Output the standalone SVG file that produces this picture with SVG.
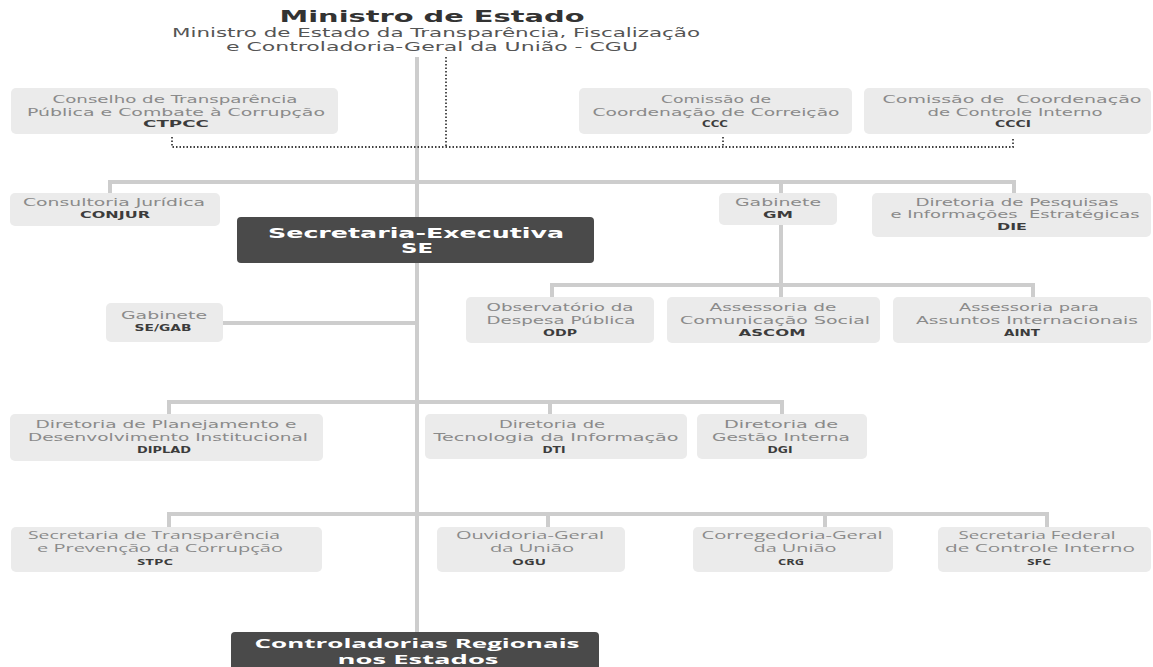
<svg xmlns="http://www.w3.org/2000/svg" width="1153" height="667" viewBox="0 0 1153 667">
<style>
.bx{fill:#ebebeb}
.dk{fill:#4a4a4a}
.t{font-family:"DejaVu Sans",Verdana,sans-serif;font-size:11px;fill:#8a8a8a;text-anchor:middle}
.b{font-family:"DejaVu Sans",Verdana,sans-serif;font-size:8.5px;font-weight:bold;fill:#3c3c3c;text-anchor:middle}
.o{font-family:"Open Sans","Liberation Sans",sans-serif;font-size:11px;fill:#8a8a8a;text-anchor:middle}
.ob{font-family:"Open Sans","Liberation Sans",sans-serif;font-size:8.5px;font-weight:bold;fill:#3c3c3c;text-anchor:middle}
.w{font-family:"DejaVu Sans",Verdana,sans-serif;font-size:13.5px;font-weight:bold;fill:#ffffff;text-anchor:middle}
.wo{font-family:"Open Sans","Liberation Sans",sans-serif;font-size:13px;font-weight:bold;fill:#ffffff;text-anchor:middle}
.ln{stroke:#cdcdcd;stroke-width:4;fill:none}
.dt{stroke:#3f3f3f;stroke-width:1.8;stroke-dasharray:1.5 2;fill:none}
.pre{white-space:pre}
</style>
<rect width="1153" height="667" fill="#ffffff"/>
<g id="connectors">
<path class="ln" d="M417 57V640"/>
<path class="ln" d="M110 193V182H1014V193M781 182V193"/>
<path class="ln" d="M781 225V297M552 297V285H1033V297"/>
<path class="ln" d="M223 323H417"/>
<path class="ln" d="M169 414V402H782V414M550 402V414"/>
<path class="ln" d="M169 527V514H1047V527M548 514V527M825 514V527"/>
<path class="dt" d="M446 57V147M172 137V147H1013V137M723 137V147"/>
</g>
<g id="ministro">
<text x="432" y="22" textLength="305" lengthAdjust="spacingAndGlyphs" style="font-family:'DejaVu Sans',Verdana,sans-serif;font-size:16px;font-weight:bold;fill:#333;text-anchor:middle">Ministro de Estado</text>
<text x="436" y="37" textLength="528" lengthAdjust="spacingAndGlyphs" style="font-family:'DejaVu Sans',Verdana,sans-serif;font-size:12.5px;fill:#555;text-anchor:middle">Ministro de Estado da Transparência, Fiscalização</text>
<text x="432" y="51" textLength="412" lengthAdjust="spacingAndGlyphs" style="font-family:'DejaVu Sans',Verdana,sans-serif;font-size:12.5px;fill:#555;text-anchor:middle">e Controladoria-Geral da União - CGU</text>
</g>
<g id="ctpcc">
<rect class="bx" x="11" y="88" width="327" height="46" rx="5"/>
<text class="t" x="175" y="103" textLength="245" lengthAdjust="spacingAndGlyphs">Conselho de Transparência</text>
<text class="t" x="176" y="116" textLength="298" lengthAdjust="spacingAndGlyphs">Pública e Combate à Corrupção</text>
<text class="b" x="176" y="127" textLength="66" lengthAdjust="spacingAndGlyphs">CTPCC</text>
</g>
<g id="ccc">
<rect class="bx" x="579" y="88" width="273" height="46" rx="5"/>
<text class="t" x="716" y="103" textLength="110" lengthAdjust="spacingAndGlyphs">Comissão de</text>
<text class="t" x="716" y="116" textLength="247" lengthAdjust="spacingAndGlyphs">Coordenação de Correição</text>
<text class="b" x="715" y="127" textLength="26" lengthAdjust="spacingAndGlyphs">CCC</text>
</g>
<g id="ccci">
<rect class="bx" x="864" y="88" width="287" height="46" rx="5"/>
<text class="t pre" x="1012" y="103" textLength="259" lengthAdjust="spacingAndGlyphs">Comissão de  Coordenação</text>
<text class="t" x="1015" y="116" textLength="175" lengthAdjust="spacingAndGlyphs">de Controle Interno</text>
<text class="b" x="1013" y="127" textLength="36" lengthAdjust="spacingAndGlyphs">CCCI</text>
</g>
<g id="conjur">
<rect class="bx" x="10" y="193" width="210" height="33" rx="5"/>
<text class="t" x="114" y="206" textLength="182" lengthAdjust="spacingAndGlyphs">Consultoria Jurídica</text>
<text class="b" x="115" y="218" textLength="70" lengthAdjust="spacingAndGlyphs">CONJUR</text>
</g>
<g id="se">
<rect class="dk" x="237" y="217" width="357" height="46" rx="4"/>
<text class="w" x="416" y="238" textLength="296" lengthAdjust="spacingAndGlyphs">Secretaria-Executiva</text>
<text class="w" x="417" y="253" textLength="32" lengthAdjust="spacingAndGlyphs">SE</text>
</g>
<g id="gm">
<rect class="bx" x="719" y="193" width="118" height="32" rx="5"/>
<text class="t" x="778" y="206" textLength="86" lengthAdjust="spacingAndGlyphs">Gabinete</text>
<text class="b" x="778" y="218" textLength="30" lengthAdjust="spacingAndGlyphs">GM</text>
</g>
<g id="die">
<rect class="bx" x="872" y="193" width="279" height="44" rx="5"/>
<text class="t" x="1017" y="206" textLength="203" lengthAdjust="spacingAndGlyphs">Diretoria de Pesquisas</text>
<text class="t pre" x="1015" y="218" textLength="249" lengthAdjust="spacingAndGlyphs">e Informações  Estratégicas</text>
<text class="b" x="1012" y="230" textLength="30" lengthAdjust="spacingAndGlyphs">DIE</text>
</g>
<g id="segab">
<rect class="bx" x="106" y="303" width="117" height="39" rx="5"/>
<text class="t" x="164" y="319" textLength="86" lengthAdjust="spacingAndGlyphs">Gabinete</text>
<text class="b" x="163" y="331" textLength="57" lengthAdjust="spacingAndGlyphs">SE/GAB</text>
</g>
<g id="odp">
<rect class="bx" x="466" y="297" width="188" height="46" rx="5"/>
<text class="t" x="560" y="311" textLength="147" lengthAdjust="spacingAndGlyphs">Observatório da</text>
<text class="t" x="561" y="324" textLength="149" lengthAdjust="spacingAndGlyphs">Despesa Pública</text>
<text class="b" x="560" y="336" textLength="34" lengthAdjust="spacingAndGlyphs">ODP</text>
</g>
<g id="ascom">
<rect class="bx" x="667" y="297" width="213" height="46" rx="5"/>
<text class="t" x="773" y="311" textLength="127" lengthAdjust="spacingAndGlyphs">Assessoria de</text>
<text class="t" x="775" y="324" textLength="190" lengthAdjust="spacingAndGlyphs">Comunicação Social</text>
<text class="b" x="772" y="336" textLength="67" lengthAdjust="spacingAndGlyphs">ASCOM</text>
</g>
<g id="aint">
<rect class="bx" x="893" y="297" width="258" height="46" rx="5"/>
<text class="t" x="1029" y="311" textLength="140" lengthAdjust="spacingAndGlyphs">Assessoria para</text>
<text class="t" x="1027" y="324" textLength="222" lengthAdjust="spacingAndGlyphs">Assuntos Internacionais</text>
<text class="b" x="1022" y="336" textLength="36" lengthAdjust="spacingAndGlyphs">AINT</text>
</g>
<g id="diplad">
<rect class="bx" x="10" y="414" width="313" height="47" rx="5"/>
<text class="t" x="166" y="428" textLength="261" lengthAdjust="spacingAndGlyphs">Diretoria de Planejamento e</text>
<text class="t" x="168" y="441" textLength="280" lengthAdjust="spacingAndGlyphs">Desenvolvimento Institucional</text>
<text class="b" x="164" y="453" textLength="54" lengthAdjust="spacingAndGlyphs">DIPLAD</text>
</g>
<g id="dti">
<rect class="bx" x="425" y="414" width="262" height="45" rx="5"/>
<text class="t" x="552" y="428" textLength="106" lengthAdjust="spacingAndGlyphs">Diretoria de</text>
<text class="t" x="556" y="441" textLength="245" lengthAdjust="spacingAndGlyphs">Tecnologia da Informação</text>
<text class="b" x="554" y="453" textLength="23" lengthAdjust="spacingAndGlyphs">DTI</text>
</g>
<g id="dgi">
<rect class="bx" x="697" y="414" width="170" height="45" rx="5"/>
<text class="t" x="781" y="428" textLength="114" lengthAdjust="spacingAndGlyphs">Diretoria de</text>
<text class="t" x="781" y="441" textLength="138" lengthAdjust="spacingAndGlyphs">Gestão Interna</text>
<text class="b" x="780" y="453" textLength="25" lengthAdjust="spacingAndGlyphs">DGI</text>
</g>
<g id="stpc">
<rect class="bx" x="11" y="527" width="311" height="45" rx="5"/>
<text class="o" x="154" y="539" textLength="252" lengthAdjust="spacingAndGlyphs">Secretaria de Transparência</text>
<text class="o" x="160" y="552" textLength="246" lengthAdjust="spacingAndGlyphs">e Prevenção da Corrupção</text>
<text class="ob" x="155" y="565" textLength="36" lengthAdjust="spacingAndGlyphs">STPC</text>
</g>
<g id="ogu">
<rect class="bx" x="437" y="527" width="188" height="45" rx="5"/>
<text class="o" x="530" y="539" textLength="148" lengthAdjust="spacingAndGlyphs">Ouvidoria-Geral</text>
<text class="o" x="532" y="552" textLength="84" lengthAdjust="spacingAndGlyphs">da União</text>
<text class="ob" x="529" y="565" textLength="34" lengthAdjust="spacingAndGlyphs">OGU</text>
</g>
<g id="crg">
<rect class="bx" x="693" y="527" width="200" height="45" rx="5"/>
<text class="o" x="792" y="539" textLength="181" lengthAdjust="spacingAndGlyphs">Corregedoria-Geral</text>
<text class="o" x="795" y="552" textLength="83" lengthAdjust="spacingAndGlyphs">da União</text>
<text class="ob" x="791" y="565" textLength="26" lengthAdjust="spacingAndGlyphs">CRG</text>
</g>
<g id="sfc">
<rect class="bx" x="938" y="527" width="213" height="45" rx="5"/>
<text class="o" x="1037" y="539" textLength="157" lengthAdjust="spacingAndGlyphs">Secretaria Federal</text>
<text class="o" x="1040" y="552" textLength="190" lengthAdjust="spacingAndGlyphs">de Controle Interno</text>
<text class="ob" x="1039" y="565" textLength="24" lengthAdjust="spacingAndGlyphs">SFC</text>
</g>
<g id="controladorias">
<rect class="dk" x="231" y="632" width="368" height="45" rx="4"/>
<text class="wo" x="417" y="648" textLength="325" lengthAdjust="spacingAndGlyphs">Controladorias Regionais</text>
<text class="wo" x="418" y="664" textLength="161" lengthAdjust="spacingAndGlyphs">nos Estados</text>
</g>
</svg>
